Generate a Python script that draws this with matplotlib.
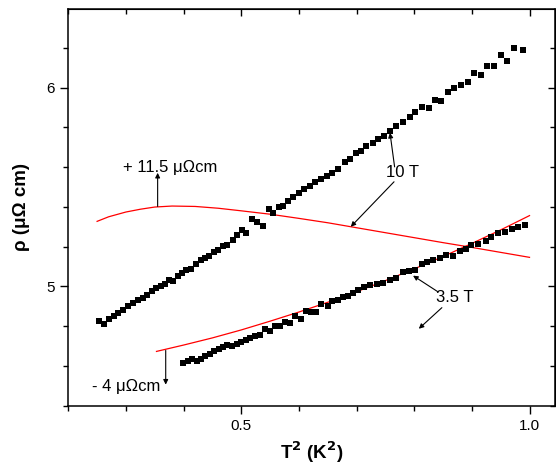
import matplotlib
matplotlib.use("Agg")
import matplotlib.pyplot as plt
from matplotlib.ticker import MultipleLocator

plt.rcParams['font.family'] = ['Liberation Sans', 'DejaVu Sans']

# 10 T data (T^2 in K^2, rho in micro-ohm cm)
t2_10T = [0.254, 0.262, 0.271, 0.279, 0.287, 0.295, 0.304, 0.313, 0.321, 0.329,
          0.337, 0.345, 0.352, 0.360, 0.368, 0.375, 0.382, 0.390, 0.398, 0.405,
          0.412, 0.421, 0.430, 0.437, 0.444, 0.453, 0.460, 0.469, 0.476, 0.485,
          0.493, 0.502, 0.509, 0.519, 0.527, 0.538, 0.548, 0.555, 0.566, 0.573,
          0.581, 0.590, 0.600, 0.609, 0.619, 0.628, 0.638, 0.648, 0.658, 0.668,
          0.680, 0.688, 0.699, 0.707, 0.717, 0.728, 0.737, 0.747, 0.758, 0.769,
          0.781, 0.792, 0.802, 0.814, 0.825, 0.836, 0.847, 0.858, 0.869, 0.881,
          0.893, 0.903, 0.915, 0.926, 0.938, 0.950, 0.961, 0.973, 0.988]
rho_10T = [4.824, 4.813, 4.836, 4.853, 4.866, 4.879, 4.900, 4.917, 4.930, 4.942,
           4.958, 4.978, 4.992, 5.004, 5.014, 5.034, 5.025, 5.050, 5.067, 5.080,
           5.087, 5.114, 5.131, 5.143, 5.154, 5.171, 5.184, 5.201, 5.210, 5.235,
           5.260, 5.285, 5.268, 5.339, 5.322, 5.305, 5.389, 5.369, 5.399, 5.406,
           5.427, 5.449, 5.472, 5.489, 5.506, 5.523, 5.540, 5.553, 5.570, 5.590,
           5.628, 5.640, 5.673, 5.683, 5.704, 5.721, 5.741, 5.757, 5.779, 5.808,
           5.825, 5.851, 5.876, 5.903, 5.898, 5.938, 5.933, 5.980, 5.997, 6.014,
           6.029, 6.072, 6.064, 6.106, 6.109, 6.164, 6.134, 6.201, 6.189]

# 3.5 T data
t2_35T = [0.399, 0.407, 0.414, 0.423, 0.430, 0.438, 0.446, 0.453, 0.461, 0.469,
          0.476, 0.484, 0.492, 0.499, 0.508, 0.515, 0.524, 0.532, 0.541, 0.550,
          0.558, 0.567, 0.576, 0.584, 0.593, 0.603, 0.612, 0.621, 0.629, 0.639,
          0.650, 0.658, 0.668, 0.677, 0.685, 0.694, 0.703, 0.713, 0.724, 0.736,
          0.746, 0.758, 0.769, 0.780, 0.791, 0.801, 0.813, 0.822, 0.833, 0.844,
          0.856, 0.867, 0.879, 0.890, 0.899, 0.910, 0.924, 0.934, 0.946, 0.957,
          0.969, 0.980, 0.992]
rho_35T = [4.615, 4.623, 4.635, 4.623, 4.635, 4.648, 4.662, 4.673, 4.685, 4.695,
           4.705, 4.698, 4.712, 4.719, 4.729, 4.741, 4.752, 4.757, 4.786, 4.774,
           4.799, 4.803, 4.819, 4.816, 4.853, 4.836, 4.874, 4.869, 4.869, 4.913,
           4.903, 4.925, 4.930, 4.947, 4.953, 4.966, 4.983, 4.997, 5.009, 5.014,
           5.017, 5.034, 5.042, 5.070, 5.079, 5.084, 5.113, 5.123, 5.131, 5.143,
           5.159, 5.154, 5.176, 5.188, 5.210, 5.215, 5.226, 5.248, 5.268, 5.271,
           5.288, 5.298, 5.310]

# fit curves (red)
t2_fit10 = [0.25, 0.27, 0.30, 0.325, 0.35, 0.38, 0.42, 0.46, 0.50, 0.55,
            0.60, 0.65, 0.70, 0.75, 0.80, 0.85, 0.90, 0.95, 1.00]
rho_fit10 = [5.327, 5.350, 5.374, 5.388, 5.399, 5.404, 5.402, 5.393, 5.380, 5.363,
             5.342, 5.320, 5.295, 5.270, 5.245, 5.220, 5.196, 5.171, 5.146]
t2_fit35 = [0.353, 0.40, 0.45, 0.50, 0.55, 0.60, 0.65, 0.70, 0.75, 0.80,
            0.85, 0.90, 0.95, 1.00]
rho_fit35 = [4.673, 4.705, 4.741, 4.781, 4.825, 4.871, 4.920, 4.973, 5.029, 5.088,
             5.150, 5.216, 5.284, 5.356]

fig = plt.figure(figsize=(5.56, 4.70), dpi=100)
ax = fig.add_axes([0.1228, 0.1368, 0.8752, 0.8441])

ax.plot(t2_fit10, rho_fit10, color='red', lw=0.9)
ax.plot(t2_fit35, rho_fit35, color='red', lw=0.9)
ax.plot(t2_10T, rho_10T, 's', color='black', markersize=4, markeredgewidth=0)
ax.plot(t2_35T, rho_35T, 's', color='black', markersize=4, markeredgewidth=0)

ax.set_xlim(0.2, 1.044)
ax.set_ylim(4.4, 6.395)

ax.xaxis.set_major_locator(MultipleLocator(0.5))
ax.xaxis.set_minor_locator(MultipleLocator(0.1))
ax.yaxis.set_major_locator(MultipleLocator(1))
ax.yaxis.set_minor_locator(MultipleLocator(0.2))
ax.tick_params(which='major', direction='out', length=6, width=1.0, labelsize=11)
ax.tick_params(which='minor', direction='out', length=3.6, width=1.0)

for s in ax.spines.values():
    s.set_linewidth(1.1)

# mirrored axes with inward ticks
top = ax.secondary_xaxis('top')
top.xaxis.set_major_locator(MultipleLocator(0.5))
top.xaxis.set_minor_locator(MultipleLocator(0.1))
top.tick_params(which='major', direction='in', length=5, width=1.0, labeltop=False)
top.tick_params(which='minor', direction='in', length=3.5, width=1.0)
right = ax.secondary_yaxis('right')
right.yaxis.set_major_locator(MultipleLocator(1))
right.yaxis.set_minor_locator(MultipleLocator(0.2))
right.tick_params(which='major', direction='in', length=5, width=1.0, labelright=False)
right.tick_params(which='minor', direction='in', length=3.5, width=1.0)

ax.set_xlabel('T$^{\\mathbf{2}}$ (K$^{\\mathbf{2}}$)', fontsize=13.5, fontweight='bold', labelpad=5)
ax.set_ylabel('ρ (μΩ cm)', fontsize=13.5, fontweight='bold', labelpad=12)

arrow = dict(arrowstyle='-|>', color='black', lw=0.8, mutation_scale=7, shrinkA=0, shrinkB=0)

ax.text(0.295, 5.60, '+ 11.5 μΩcm', fontsize=12, ha='left', va='center')
ax.annotate('', xy=(0.355, 5.571), xytext=(0.355, 5.402), arrowprops=arrow)

ax.text(0.751, 5.571, '10 T', fontsize=12, ha='left', va='center')
ax.annotate('', xy=(0.758, 5.772), xytext=(0.766, 5.601), arrowprops=arrow)
ax.annotate('', xy=(0.690, 5.300), xytext=(0.765, 5.526), arrowprops=arrow)

ax.text(0.838, 4.943, '3.5 T', fontsize=12, ha='left', va='center')
ax.annotate('', xy=(0.798, 5.054), xytext=(0.841, 4.973), arrowprops=arrow)
ax.annotate('', xy=(0.808, 4.787), xytext=(0.848, 4.893), arrowprops=arrow)

ax.text(0.241, 4.496, '- 4 μΩcm', fontsize=12, ha='left', va='center')
ax.annotate('', xy=(0.369, 4.506), xytext=(0.369, 4.678), arrowprops=arrow)

fig.savefig('out.png', dpi=100)
